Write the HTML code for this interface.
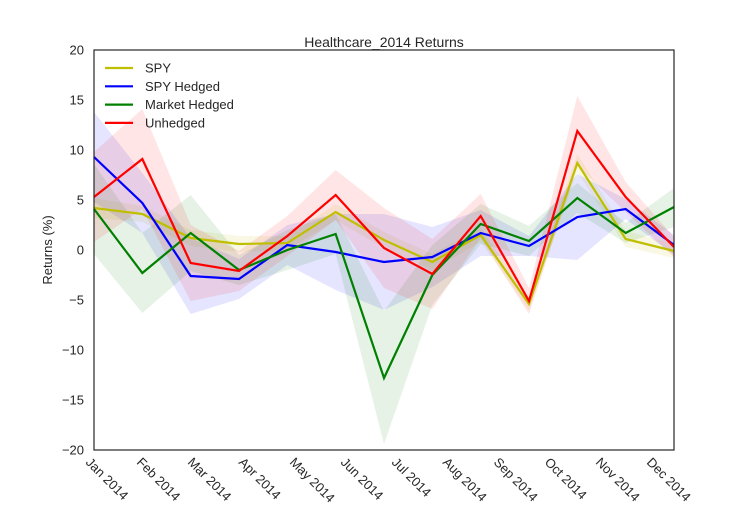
<!DOCTYPE html>
<html><head><meta charset="utf-8">
<style>
html,body{margin:0;padding:0;background:#fff;}
svg text{font-family:"Liberation Sans",Arial,sans-serif;fill:#262626;}
</style></head>
<body>
<svg id="chart" width="748" height="514" xmlns="http://www.w3.org/2000/svg">
<rect width="748" height="514" fill="#fff"/>
<g id="bands"></g>
<g id="lines"></g>
<rect x="94" y="50" width="580" height="400" fill="none" stroke="#262626" stroke-width="1.2"/>
<text x="384" y="47" text-anchor="middle" font-size="14">Healthcare_2014 Returns</text>
<text transform="translate(52,250) rotate(-90)" text-anchor="middle" font-size="13">Returns (%)</text>
<g id="yticks"></g>
<g id="xticks"></g>
<g id="legend"></g>
</svg>
<script>
const monthLabels = ["Jan 2014","Feb 2014","Mar 2014","Apr 2014","May 2014","Jun 2014","Jul 2014","Aug 2014","Sep 2014","Oct 2014","Nov 2014","Dec 2014"];
const yTicks = [20,15,10,5,0,-5,-10,-15,-20];
const seriesNames = ["SPY","SPY Hedged","Market Hedged","Unhedged"];
const spyVals = [4.2,3.6,1.2,0.6,0.7,3.8,1.0,-1.2,1.5,-5.4,8.7,1.1,-0.1];
const spyLow  = [3.2,2.8,0.4,-0.2,0.0,3.0,0.2,-2.0,0.8,-6.0,7.8,0.3,-0.8];
const spyHigh = [5.2,4.4,2.0,1.4,1.4,4.6,1.8,-0.4,2.2,-4.8,9.6,1.9,0.6];
const spyHVals = [9.3,4.7,-2.6,-2.9,0.5,-0.2,-1.2,-0.7,1.7,0.4,3.3,4.1,0.5];
const spyHLow  = [4.8,1.7,-6.4,-4.9,-1.5,-4.0,-6.0,-3.7,-0.6,-0.6,-1.0,3.1,-0.5];
const spyHHigh = [13.8,7.7,1.2,-0.9,2.5,3.6,3.6,2.3,4.0,1.4,7.6,5.1,1.5];
const mktVals = [4.1,-2.3,1.7,-2.0,0.0,1.6,-12.8,-2.5,2.6,0.9,5.2,1.7,4.3];
const mktLow  = [-0.4,-6.3,-2.1,-3.5,-2.0,-0.4,-19.4,-5.5,0.6,-0.6,3.7,0.7,2.3];
const mktHigh = [8.6,1.7,5.5,-0.5,2.0,3.6,-6.1,0.5,4.6,2.4,6.7,2.7,6.2];
const unhVals = [5.3,9.1,-1.3,-2.1,1.4,5.5,0.2,-2.4,3.4,-5.1,11.9,5.3,0.3];
const unhLow  = [0.8,4.1,-5.1,-4.1,-0.6,3.0,-3.8,-5.9,1.2,-6.4,8.4,3.8,-0.7];
const unhHigh = [9.8,14.1,2.5,-0.1,3.4,8.0,4.2,1.1,5.6,-3.8,15.4,6.8,1.3];

const X0=94,X1=674,Y0=50,Y1=450;
const nPts = spyVals.length;
function xPt(i){return X0+(X1-X0)*i/(nPts-1);}
function xTick(i){return X0+51*i;}
function yS(v){return Y1-(v+20)/40*(Y1-Y0);}
const NS="http://www.w3.org/2000/svg";
function mk(tag,attrs,parent){const e=document.createElementNS(NS,tag);for(const k in attrs)e.setAttribute(k,attrs[k]);parent.appendChild(e);return e;}

const colors=["#bfbf00","#0000ff","#008000","#ff0000"];
const vals=[spyVals,spyHVals,mktVals,unhVals];
const lows=[spyLow,spyHLow,mktLow,unhLow];
const highs=[spyHigh,spyHHigh,mktHigh,unhHigh];
const keys=["spy","spy-hedged","market-hedged","unhedged"];
const bandsG=document.getElementById('bands'), linesG=document.getElementById('lines');
for(let s=0;s<4;s++){
  let top=highs[s].map((v,i)=>xPt(i)+","+yS(v));
  let bot=lows[s].map((v,i)=>xPt(i)+","+yS(v)).reverse();
  const b=mk('polygon',{points:top.concat(bot).join(' '),fill:colors[s],'fill-opacity':0.1,stroke:'none'},bandsG);
  
  
}
for(let s=0;s<4;s++){
  const l=mk('polyline',{points:vals[s].map((v,i)=>xPt(i)+","+yS(v)).join(' '),fill:'none',stroke:colors[s],'stroke-width':2.2,'stroke-linejoin':'miter'},linesG);
  
  
}
const yt=document.getElementById('yticks');
yTicks.forEach(v=>{
  const t=mk('text',{x:84,y:yS(v)+4.5,'text-anchor':'end','font-size':13},yt);
  t.textContent=String(v).replace('-','\u2212');
  
  
});
const xt=document.getElementById('xticks');
monthLabels.forEach((m,i)=>{
  const x=xTick(i)-9,y=463;
  const t=mk('text',{x:x,y:y,transform:`rotate(45 ${x} ${y})`,'font-size':13},xt);
  t.textContent=m;
  
  
});
const lg=document.getElementById('legend');
seriesNames.forEach((n,i)=>{
  const y=68+i*18.3;
  const g=mk('g',{},lg);
  
  
  mk('line',{x1:105,x2:133,y1:y,y2:y,stroke:colors[i],'stroke-width':2.2},g);
  const t=mk('text',{x:145,y:y+4.5,'font-size':13},g);
  t.textContent=n;
});
</script>
</body></html>
